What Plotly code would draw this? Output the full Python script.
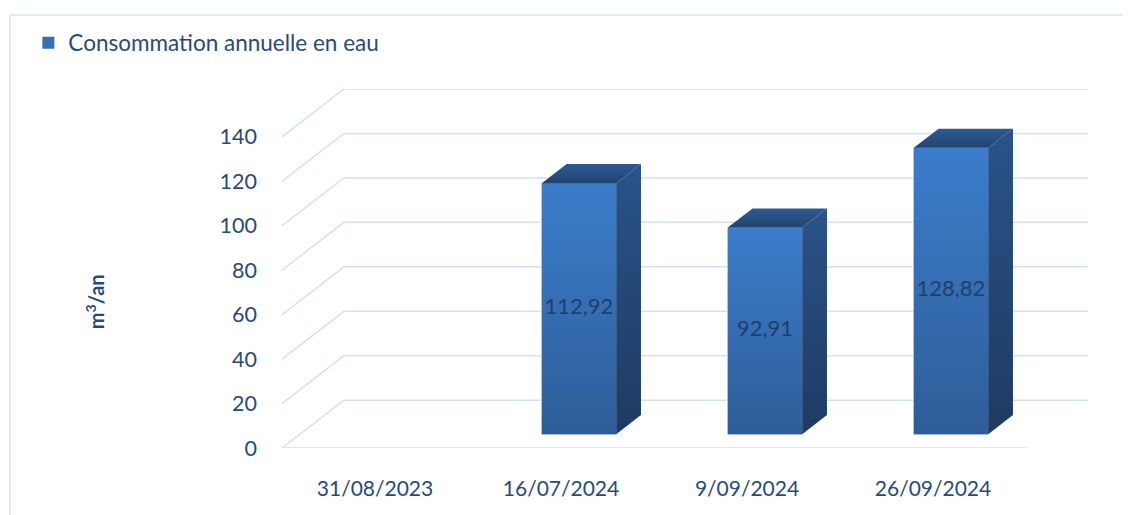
import plotly.graph_objects as go

# ---------------- data ----------------
categories = ["31/08/2023", "16/07/2024", "9/09/2024", "26/09/2024"]
values = [None, 112.92, 92.91, 128.82]
y_ticks = [0, 20, 40, 60, 80, 100, 120, 140]
series_name = "Consommation annuelle en eau"
y_title = "m<sup>3</sup>/an"

# ---------------- style / 3D geometry ----------------
DX, DY = 1 / 3, 21.5            # floor depth expressed in axis units
F_FRONT, F_BACK = 0.29, 0.69    # bar depth position (fraction of floor depth)
BAR_W = 0.4
TEXT = "#264a7e"
GRID = "#d4e1f5"
FONT = "Lato"
OFF = 8                          # page body margin
PL, PT, PW, PH = 282 - OFF, 89 - OFF, 806, 358.7

fig = go.Figure()

# gridlines: left side wall diagonals + back wall horizontals + floor front edge
gx, gy = [], []
n = len(categories)
for t in y_ticks:
    gx += [-0.5, -0.5 + DX, n - 0.5 + DX, None]
    gy += [t, t + DY, t + DY, None]
gx += [-0.5, n - 0.5, None]
gy += [0, 0, None]
fig.add_trace(go.Scatter(x=gx, y=gy, mode="lines", line=dict(color=GRID, width=1.5),
                         hoverinfo="skip", showlegend=False))

# front faces as real bars (legend source)
xpos = [i + F_FRONT * DX for i in range(n)]
fig.add_trace(go.Bar(x=xpos, y=values, base=F_FRONT * DY, width=BAR_W,
                     marker=dict(color="#3570b8", line=dict(width=0)),
                     name=series_name, showlegend=True, hoverinfo="skip"))

ddx = (F_BACK - F_FRONT) * DX
ddy = (F_BACK - F_FRONT) * DY


def face(xs, ys, c_bottom, c_top):
    fig.add_trace(go.Scatter(
        x=xs + [xs[0]], y=ys + [ys[0]], mode="lines", fill="toself",
        line=dict(width=0, color="rgba(0,0,0,0)"),
        fillcolor=c_top,
        fillgradient=dict(type="vertical", colorscale=[[0, c_bottom], [1, c_top]]),
        hoverinfo="skip", showlegend=False))


lab_x, lab_y, lab_t = [], [], []
for i, v in enumerate(values):
    if v is None:
        continue
    x0 = xpos[i] - BAR_W / 2
    x1 = xpos[i] + BAR_W / 2
    y0 = F_FRONT * DY
    y1 = y0 + v
    face([x0, x1, x1, x0], [y0, y0, y1, y1], "#2e5d98", "#3b7dcb")
    face([x1, x1 + ddx, x1 + ddx, x1], [y0, y0 + ddy, y1 + ddy, y1], "#1e3a62", "#2a5389")
    face([x0, x1, x1 + ddx, x0 + ddx], [y1, y1, y1 + ddy, y1 + ddy], "#21436f", "#2d5b94")
    lab_x.append(xpos[i])
    lab_y.append(y0 + v / 2)
    lab_t.append(f"{v:.2f}".replace(".", ","))

fig.add_trace(go.Scatter(x=lab_x, y=lab_y, text=lab_t, mode="text",
                         textfont=dict(family=FONT, size=22, color="#1f3f6d"),
                         hoverinfo="skip", showlegend=False))


def px_x(p):  # screen px -> paper x
    return (p - OFF - PL) / PW


def px_y(p):  # screen px -> paper y
    return (PT + PH - (p - OFF)) / PH


# chart border
fig.add_shape(type="rect", xref="paper", yref="paper",
              x0=px_x(10), x1=px_x(1150), y0=px_y(540), y1=px_y(15),
              line=dict(color="#d9e3f3", width=1.5), layer="below")

fig.add_annotation(text=f"<b>{y_title}</b>", xref="paper", yref="paper",
                   x=px_x(95), y=px_y(302), textangle=-90,
                   xanchor="center", yanchor="middle",
                   showarrow=False, font=dict(family=FONT, size=20, color=TEXT))

fig.update_layout(
    width=1131, height=515,
    margin=dict(l=PL, r=1131 - PL - PW, t=PT, b=515 - PT - PH, autoexpand=False),
    paper_bgcolor="white", plot_bgcolor="white",
    font=dict(family=FONT, color=TEXT),
    separators=", ",
    barmode="overlay",
    legend=dict(xref="container", yref="container", x=0.018, y=(515 - 35) / 515,
                xanchor="left", yanchor="middle", font=dict(size=22.5, color=TEXT),
                bgcolor="rgba(0,0,0,0)"),
    xaxis=dict(range=[-0.5, n - 0.5 + DX], tickvals=list(range(n)), ticktext=categories,
               showgrid=False, zeroline=False, showline=False, ticks="", automargin=False,
               ticklabelstandoff=26, tickfont=dict(size=21, color=TEXT)),
    yaxis=dict(range=[0, y_ticks[-1] + DY], tickvals=y_ticks, showgrid=False,
               zeroline=False, showline=False, ticks="", ticklabelstandoff=24,
               automargin=False, tickfont=dict(size=21.5, color=TEXT)),
)

fig.write_html("out.html")
